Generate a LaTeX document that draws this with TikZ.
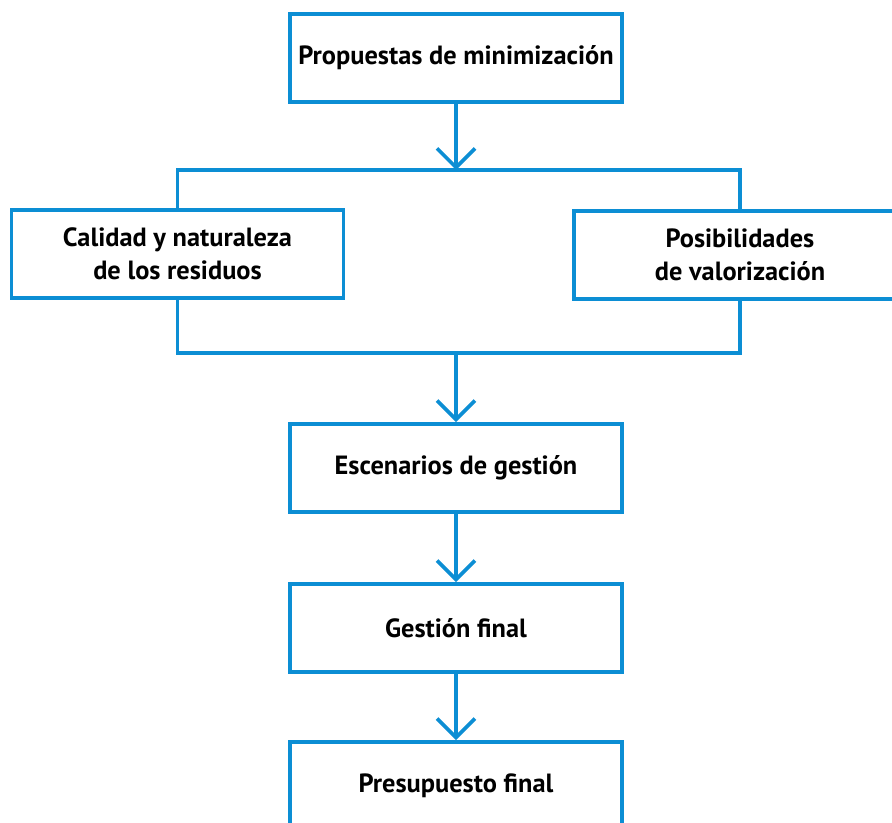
\documentclass[tikz,border=0pt]{standalone}
\usepackage{fontspec}
\setmainfont{PT Sans}
\usetikzlibrary{arrows.meta}
\definecolor{flowblue}{RGB}{12,142,212}

\begin{document}
\begin{tikzpicture}
	[line width=2.1pt,draw=flowblue,
	every node/.style={shape=rectangle,draw=flowblue,line width=2.1pt,
		minimum width=6.64cm,minimum height=1.76cm,align=center,
		font=\fontsize{15}{19}\selectfont\bfseries},
	flecha/.style={-{Straight Barb[length=3.8mm,width=7.6mm]}}]
	\clip (0,0) rectangle (17.84,-16.46);
	
	\node (prop) at (9.12,-1.16) {Propuestas de minimización};
	\node (calidad) at (3.55,-5.08) {Calidad y naturaleza\\de los residuos};
	\node (valor) at (14.80,-5.10) {Posibilidades\\de valorización};
	\node (escen) at (9.12,-9.36) {Escenarios de gestión};
	\node (gestion) at (9.12,-12.56) {Gestión final};
	\node (presup) at (9.12,-15.72) {Presupuesto final};
	
	\coordinate (reparto) at (9.12,-3.40);
	\coordinate (union) at (9.12,-7.06);
	
	% ramas
	\draw (calidad.north) |- (reparto) -| (valor.north);
	\draw (calidad.south) |- (union) -| (valor.south);
	
	\path
	\foreach \startNode/\endNode in {prop/reparto,union/escen,escen/gestion,gestion/presup}
	{
		(\startNode) edge[flecha,draw=flowblue] (\endNode)
	};
\end{tikzpicture}
\end{document}
